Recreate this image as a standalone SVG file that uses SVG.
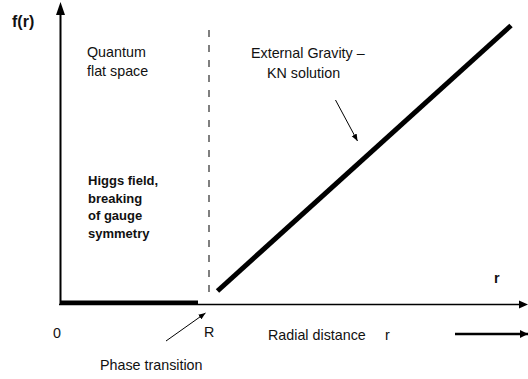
<svg xmlns="http://www.w3.org/2000/svg" width="528" height="379" viewBox="0 0 528 379">
<defs>
<marker id="ah" viewBox="0 0 10 10" refX="10" refY="5" markerWidth="8" markerHeight="8" markerUnits="userSpaceOnUse" orient="auto"><path d="M0,0 L10,5 L0,10 z" fill="#000"/></marker>
<marker id="ahs" viewBox="0 0 10 10" refX="10" refY="5" markerWidth="7" markerHeight="7" markerUnits="userSpaceOnUse" orient="auto"><path d="M0,1 L10,5 L0,9 z" fill="#000"/></marker>
</defs>
<style>
text{font-family:"Liberation Sans",Arial,sans-serif;font-size:14.3px;fill:#111}
.b{font-weight:bold}
.ax{stroke:#000;fill:none}
</style>
<rect width="528" height="379" fill="#fff"/>
<g id="connectors">
<line class="ax" x1="60.5" y1="305" x2="60.5" y2="14" stroke-width="2"/>
<path d="M60.5,2 L65,15 L56,15 z" fill="#000"/>
<line class="ax" x1="59" y1="304.5" x2="520" y2="304.5" stroke-width="1.5"/>
<path d="M528,304.5 L519,300.5 L519,308.5 z" fill="#000"/>
<rect x="61" y="300.5" width="137" height="4.5" fill="#000"/>
<line x1="209" y1="22" x2="209" y2="300" stroke="#555" stroke-width="1.5" stroke-dasharray="7,8" stroke-dashoffset="7"/>
<line x1="217.5" y1="291" x2="511" y2="25.5" stroke="#000" stroke-width="5"/>
<line x1="335.5" y1="100" x2="357.5" y2="141" stroke="#000" stroke-width="1" marker-end="url(#ahs)"/>
<line x1="166" y1="341" x2="205.5" y2="313" stroke="#000" stroke-width="1" marker-end="url(#ahs)"/>
<line x1="455" y1="334" x2="528" y2="334" stroke="#000" stroke-width="2.5" marker-end="url(#ah)"/>
</g>
<g id="label-fr"><text class="b" x="12" y="27" style="font-size:16px">f(r)</text></g>
<g id="label-quantum"><text x="87" y="57">Quantum</text><text x="87" y="75.5">flat space</text></g>
<g id="label-external"><text x="251" y="58">External Gravity –</text><text x="267" y="78">KN solution</text></g>
<g id="label-higgs" class="b">
<text class="b" x="88" y="185" style="font-size:13px">Higgs field,</text>
<text class="b" x="88" y="202.5" style="font-size:13px">breaking</text>
<text class="b" x="88" y="220" style="font-size:13px">of gauge</text>
<text class="b" x="88" y="237.5" style="font-size:13px">symmetry</text>
</g>
<g id="label-zero"><text x="53" y="338">0</text></g>
<g id="label-R"><text x="204" y="337">R</text></g>
<g id="label-phase"><text x="100" y="370">Phase transition</text></g>
<g id="label-radial"><text x="268" y="340">Radial distance</text><text x="385" y="340">r</text></g>
<g id="label-r"><text class="b" x="494" y="283">r</text></g>
</svg>
